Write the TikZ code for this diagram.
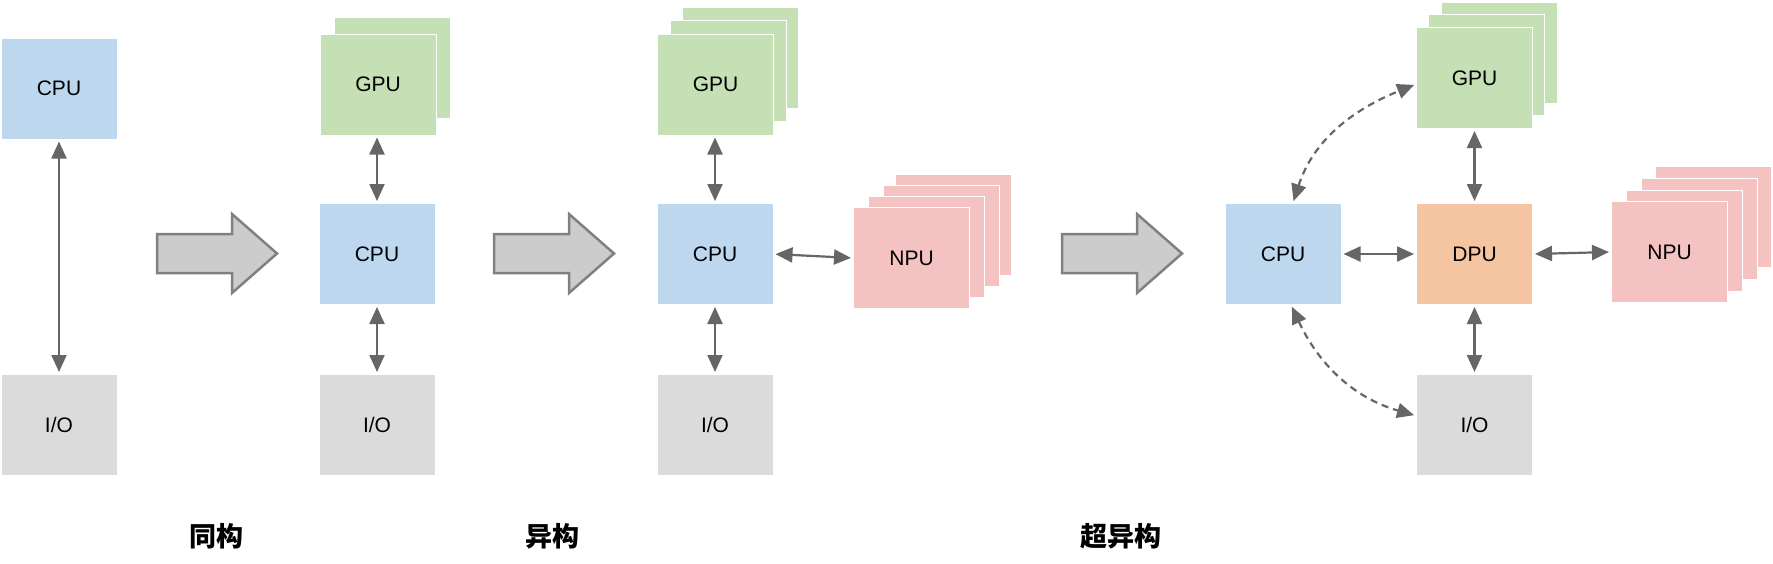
\documentclass[tikz,border=0pt]{standalone}
\usepackage{fontspec}
\setmainfont{Liberation Sans}
\newfontfamily\cjk{Noto Sans CJK SC}
\usetikzlibrary{arrows.meta}
\definecolor{cpuc}{HTML}{BDD7EE}
\definecolor{gpuc}{HTML}{C5E0B4}
\definecolor{npuc}{HTML}{F4C2C1}
\definecolor{dpuc}{HTML}{F5C5A1}
\definecolor{ioc}{HTML}{DBDBDB}
\definecolor{linkc}{HTML}{666666}
\definecolor{barrowf}{HTML}{CCCCCC}
\definecolor{barrowd}{HTML}{808080}
\tikzset{
  box/.style={minimum width=116pt, minimum height=101pt, inner sep=0pt, draw=white, line width=1pt,
    font=\fontsize{21}{25}\selectfont},
  cpubox/.style={box, fill=cpuc},
  gpubox/.style={box, fill=gpuc},
  npubox/.style={box, fill=npuc},
  dpubox/.style={box, fill=dpuc},
  iobox/.style={box, fill=ioc},
  link/.style={draw=linkc, line width=2.2pt, {Triangle[length=17pt,width=15pt]}-{Triangle[length=17pt,width=15pt]}, shorten <=2pt, shorten >=2pt},
  dlink/.style={link, dash pattern=on 7pt off 5pt},
  bigarrow/.style={draw=barrowd, fill=barrowf, line width=2.5pt, line join=miter},
  caption/.style={font=\cjk\bfseries\fontsize{27}{31}\selectfont, inner sep=0pt}
}
\begin{document}
\begin{tikzpicture}[x=1pt,y=1pt]
\useasboundingbox (0,0) rectangle (1773,-563);
% ---------- panel 1: homogeneous ----------
\node[cpubox] (cpu1) at (59,-88.5) {CPU};
\node[iobox] (io1) at (59,-425) {I/O};
\draw[link] (cpu1) -- (io1);
% ---------- big arrows ----------
\draw[bigarrow] (157,-234) -- (232,-234) -- (232,-214) -- (277,-253.5) -- (232,-293) -- (232,-273) -- (157,-273) -- cycle;
\draw[bigarrow] (494,-234) -- (569,-234) -- (569,-214) -- (614,-253.5) -- (569,-293) -- (569,-273) -- (494,-273) -- cycle;
\draw[bigarrow] (1062,-234) -- (1137,-234) -- (1137,-214) -- (1182,-253.5) -- (1137,-293) -- (1137,-273) -- (1062,-273) -- cycle;
% ---------- panel 2 ----------
\node[gpubox] (gpu2b) at (392,-68) {};
\node[gpubox] (gpu2) at (378,-84.5) {GPU};
\node[cpubox] (cpu2) at (377,-254) {CPU};
\node[iobox] (io2) at (377,-425) {I/O};
\draw[link] (gpu2.south -| cpu2) -- (cpu2);
\draw[link] (cpu2) -- (io2);
% ---------- panel 3 ----------
\node[gpubox] (gpu3c) at (740,-58) {};
\node[gpubox] (gpu3b) at (728,-70.5) {};
\node[gpubox] (gpu3) at (715.5,-84.5) {GPU};
\node[cpubox] (cpu3) at (715,-254) {CPU};
\node[iobox] (io3) at (715,-425) {I/O};
\node[npubox] (npu3d) at (953,-225) {};
\node[npubox] (npu3c) at (941.5,-235.5) {};
\node[npubox] (npu3b) at (926.5,-247) {};
\node[npubox] (npu3) at (911.5,-258) {NPU};
\draw[link] (gpu3.south -| cpu3) -- (cpu3);
\draw[link] (cpu3) -- (io3);
\draw[link] (cpu3.east) -- (npu3.west);
% ---------- panel 4 ----------
\node[gpubox] (gpu4c) at (1499,-52.5) {};
\node[gpubox] (gpu4b) at (1486.5,-64.5) {};
\node[gpubox] (gpu4) at (1474.5,-78) {GPU};
\node[cpubox] (cpu4) at (1283,-254) {CPU};
\node[dpubox] (dpu4) at (1474.5,-254) {DPU};
\node[iobox] (io4) at (1474.5,-425) {I/O};
\node[npubox] (npu4d) at (1713.5,-216.5) {};
\node[npubox] (npu4c) at (1699.5,-228.5) {};
\node[npubox] (npu4b) at (1684.5,-240.5) {};
\node[npubox] (npu4) at (1669.5,-252) {NPU};
\draw[link] (gpu4) -- (dpu4);
\draw[link] (dpu4) -- (io4);
\draw[link] (cpu4) -- (dpu4);
\draw[link] (dpu4.east) -- (npu4.west);
\draw[dlink] (cpu4.79) to[out=72,in=202] (gpu4.186);
\draw[dlink] (cpu4.279) to[out=-65,in=164] (io4.171);
% ---------- captions ----------
\node[caption] (cap1) at (216.5,-536) {同构};
\node[caption] (cap2) at (552,-536) {异构};
\node[caption] (cap3) at (1120.5,-536) {超异构};
\end{tikzpicture}
\end{document}
